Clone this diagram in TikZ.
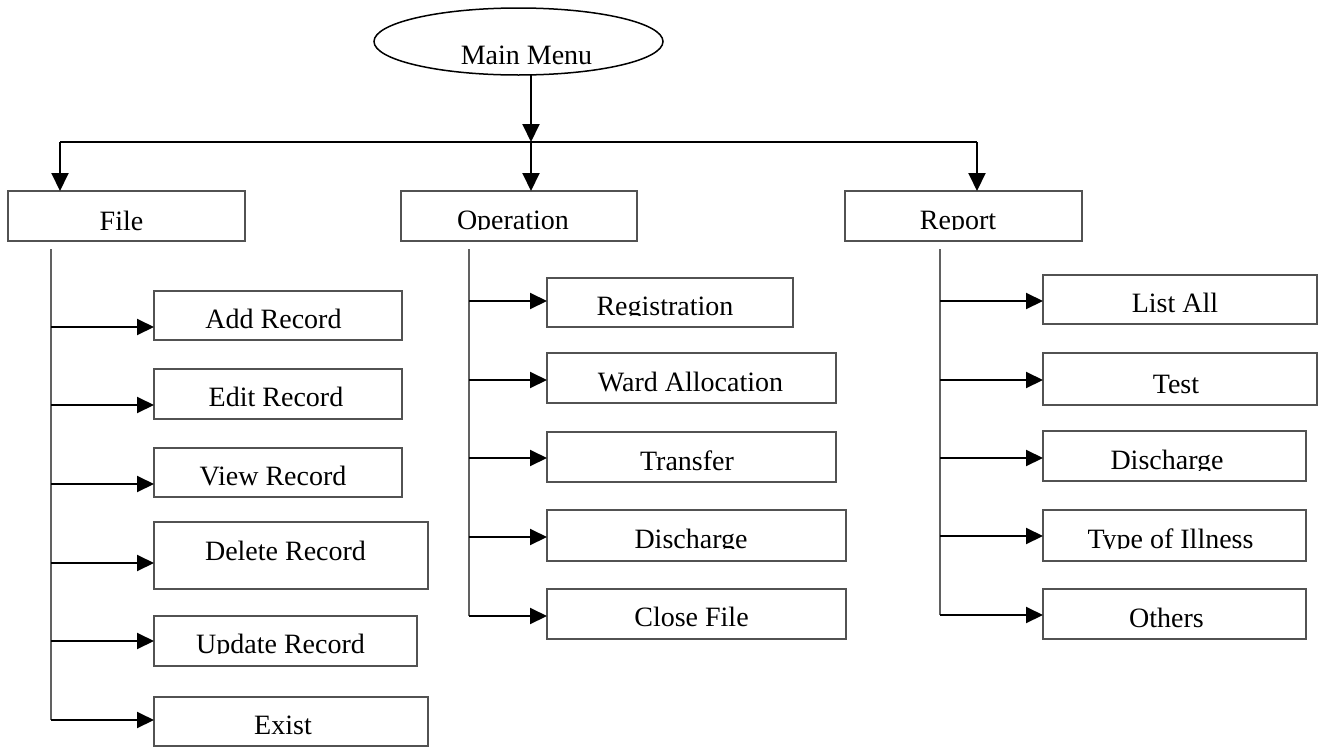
\documentclass[tikz,border=0pt]{standalone}
\usepackage{fontspec}
\setmainfont{Liberation Serif}
\usetikzlibrary{arrows.meta,shapes.geometric}

\tikzset{
  box/.style={draw=black!68, line width=1.6pt, fill=white, inner sep=0pt,
              outer sep=0pt, anchor=north west},
  lbl/.style={font=\fontsize{28}{32}\selectfont, inner sep=0pt, outer sep=0pt,
              anchor=base},
  stem/.style={draw=black!62, line width=1.7pt},
  feed/.style={draw=black, line width=2pt},
  drop/.style={feed, -{Triangle[length=18pt,width=17pt]}},
  branch/.style={feed, -{Triangle[length=17pt,width=16pt]}},
}

% a named box given by its corners (y grows downwards)
\newcommand\mkbox[5]{%
  \node[box, minimum width={#4-#2}, minimum height={#5-#3}] (#1) at (#2,#3) {};}
% a label set on a baseline, trimmed just under that baseline
\newcommand\mklabel[4]{%
  \begin{scope}
    \clip (#2-250,#3-45) rectangle (#2+250,#3+0.5);
    \node[lbl] (#1) at (#2,#3) {#4};
  \end{scope}}

\begin{document}
\begin{tikzpicture}[x=1pt,y=-1pt]
\useasboundingbox[fill=white] (0,0) rectangle (1323,747);

% ---- root -------------------------------------------------------------
\node[draw, ellipse, line width=1.5pt, minimum width=289, minimum height=67,
      inner sep=0pt] (main) at (518.5,41.5) {};
\node[lbl] (main-t) at (526.5,64) {Main Menu};

% ---- first level ------------------------------------------------------
\mkbox{file}{8}{191}{245}{241}
\mkbox{op}{401}{191}{637}{241}
\mkbox{rep}{845}{191}{1082}{241}
\mklabel{file-t}{121.5}{230}{File}
\mklabel{op-t}{513}{229}{Operation}
\mklabel{rep-t}{958}{229}{Report}

\coordinate (mtop) at (531,74.5);
\coordinate (hub) at (531,142);
\coordinate (hl) at (60,142);
\coordinate (hr) at (977,142);
\draw[drop] (mtop) -- (hub);
\draw[feed] (hl) -- (hr);
\draw[drop] (hl) -- (hl |- file.north);
\draw[drop] (hub) -- (hub |- op.north);
\draw[drop] (hr) -- (hr |- rep.north);

% ---- File menu --------------------------------------------------------
\mkbox{add}{154}{291}{402}{340}
\mkbox{edit}{154}{369}{402}{419}
\mkbox{view}{154}{448}{402}{497}
\mkbox{del}{154}{522}{428}{589}
\mkbox{upd}{154}{616}{417}{666}
\mkbox{exist}{154}{697}{428}{746}
\mklabel{add-t}{273.5}{328}{Add Record}
\mklabel{edit-t}{276}{406.5}{Edit Record}
\mklabel{view-t}{273}{485.5}{View Record}
\mklabel{del-t}{285.5}{560}{Delete Record}
\mklabel{upd-t}{280.5}{653}{Update Record}
\mklabel{exist-t}{283}{734}{Exist}

\coordinate (fs) at (51,249);
\coordinate (fe) at (51,720);
\draw[stem] (fs) -- (fe);
\foreach \y/\n in {327/add,405/edit,484/view,563/del,641/upd,720/exist}{
  \coordinate (f-\n) at (51,\y);
  \draw[branch] (f-\n) -- (f-\n -| \n.west);
}

% ---- Operation menu ---------------------------------------------------
\mkbox{reg}{547}{278}{793}{327}
\mkbox{ward}{547}{353}{836}{403}
\mkbox{trans}{547}{432}{836}{482}
\mkbox{odis}{547}{510}{846}{561}
\mkbox{close}{547}{589}{846}{639}
\mklabel{reg-t}{665}{315}{Registration}
\mklabel{ward-t}{690.5}{391.7}{Ward Allocation}
\mklabel{trans-t}{687}{470}{Transfer}
\mklabel{odis-t}{691}{548}{Discharge}
\mklabel{close-t}{691.5}{626.7}{Close File}

\coordinate (os) at (469,249);
\coordinate (oe) at (469,616);
\draw[stem] (os) -- (oe);
\foreach \y/\n in {301/reg,380/ward,458/trans,537/odis,616/close}{
  \coordinate (o-\n) at (469,\y);
  \draw[branch] (o-\n) -- (o-\n -| \n.west);
}

% ---- Report menu ------------------------------------------------------
\mkbox{list}{1043}{275}{1317}{324}
\mkbox{test}{1043}{353}{1317}{405}
\mkbox{rdis}{1043}{431}{1306}{481}
\mkbox{type}{1043}{510}{1306}{561}
\mkbox{oth}{1043}{589}{1306}{639}
\mklabel{list-t}{1175}{312.5}{List All}
\mklabel{test-t}{1176}{393}{Test}
\mklabel{rdis-t}{1167}{469.6}{Discharge}
\mklabel{type-t}{1170.5}{548}{Type of Illness}
\mklabel{oth-t}{1166.5}{627}{Others}

\coordinate (rs) at (940,249);
\coordinate (re) at (940,615);
\draw[stem] (rs) -- (re);
\foreach \y/\n in {301/list,380/test,458/rdis,536/type,615/oth}{
  \coordinate (r-\n) at (940,\y);
  \draw[branch] (r-\n) -- (r-\n -| \n.west);
}
\end{tikzpicture}
\end{document}
